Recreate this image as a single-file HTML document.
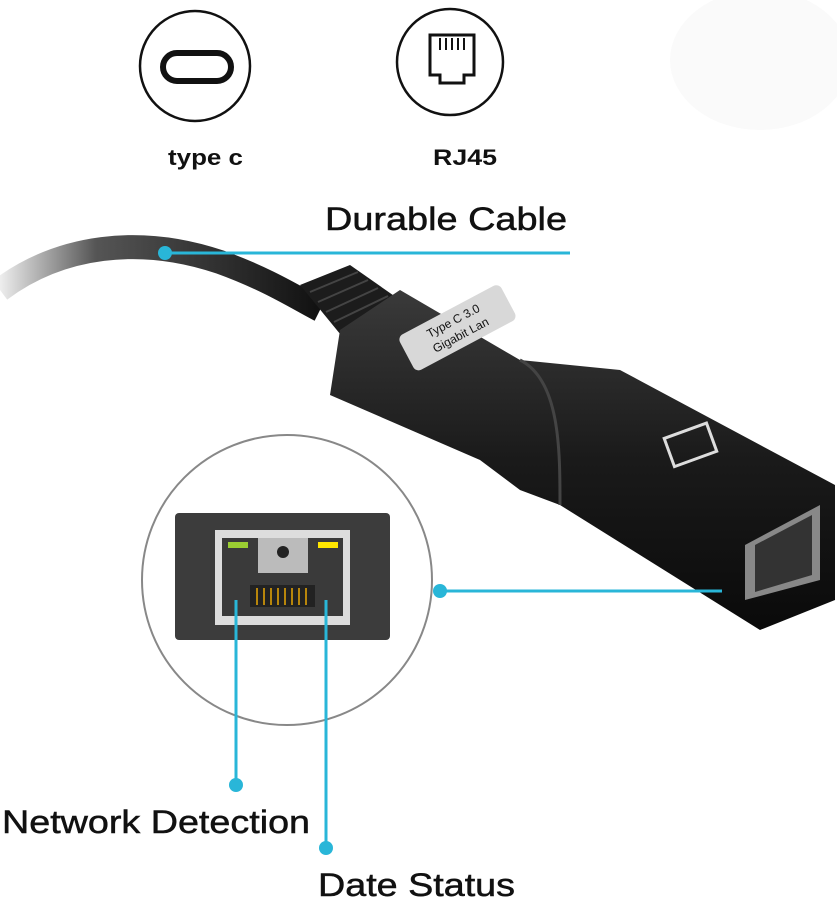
<!DOCTYPE html>
<html><head><meta charset="utf-8"><style>
html,body{margin:0;padding:0;background:#fff;width:837px;height:900px;overflow:hidden}
svg{display:block}
text{font-family:"Liberation Sans",Arial,sans-serif}
</style></head><body>
<svg width="837" height="900" viewBox="0 0 837 900">
<defs>
<linearGradient id="body" x1="0" y1="0" x2="0" y2="1">
<stop offset="0" stop-color="#3a3a3a"/><stop offset="0.5" stop-color="#1a1a1a"/><stop offset="1" stop-color="#0a0a0a"/>
</linearGradient>
<linearGradient id="cable" x1="0" y1="0" x2="1" y2="0">
<stop offset="0" stop-color="#eee"/><stop offset="0.3" stop-color="#555"/><stop offset="1" stop-color="#111"/>
</linearGradient>
</defs>
<circle cx="195" cy="66" r="55" fill="#fff" stroke="#111" stroke-width="2.5"/>
<rect x="163" y="53" width="68" height="28" rx="14" fill="none" stroke="#111" stroke-width="6"/>
<text x="168" y="165" font-size="22" font-weight="bold" textLength="75" lengthAdjust="spacingAndGlyphs" fill="#111">type c</text>
<circle cx="450" cy="62" r="53" fill="#fff" stroke="#111" stroke-width="2.5"/>
<path d="M430 35 h44 v40 h-10 v8 h-24 v-8 h-10 z" fill="none" stroke="#111" stroke-width="3"/>
<g stroke="#111" stroke-width="2"><line x1="440" y1="38" x2="440" y2="50"/><line x1="446" y1="38" x2="446" y2="50"/><line x1="452" y1="38" x2="452" y2="50"/><line x1="458" y1="38" x2="458" y2="50"/><line x1="464" y1="38" x2="464" y2="50"/></g>
<text x="433" y="165" font-size="22" font-weight="bold" textLength="64" lengthAdjust="spacingAndGlyphs" fill="#111">RJ45</text>
<ellipse cx="760" cy="60" rx="90" ry="70" fill="#fafafa"/>
<text x="325" y="230" font-size="32" textLength="242" lengthAdjust="spacingAndGlyphs" fill="#111" stroke="#111" stroke-width="0.5">Durable Cable</text>
<path d="M0 290 C60 245 140 235 220 262 C270 280 300 300 320 310" fill="none" stroke="url(#cable)" stroke-width="24"/>
<path d="M300 285 L350 265 L400 300 L345 340 Z" fill="#1c1c1c"/>
<g stroke="#444" stroke-width="2"><line x1="310" y1="292" x2="358" y2="272"/><line x1="318" y1="302" x2="368" y2="280"/><line x1="326" y1="312" x2="378" y2="288"/><line x1="334" y1="322" x2="388" y2="296"/></g>
<path d="M340 330 L400 290 L520 360 L620 370 L835 485 L835 600 L760 630 L560 505 L520 490 L480 460 L330 395 Z" fill="url(#body)"/>
<path d="M520 360 C560 380 560 450 560 505" fill="none" stroke="#444" stroke-width="3"/>
<rect x="400" y="308" width="115" height="40" rx="6" fill="#d8d8d8" transform="rotate(-28 457 328)"/>
<text x="457" y="324" font-size="12" text-anchor="middle" fill="#111" transform="rotate(-28 457 328)">Type C 3.0</text>
<text x="457" y="340" font-size="12" text-anchor="middle" fill="#111" transform="rotate(-28 457 328)">Gigabit Lan</text>
<rect x="668" y="430" width="45" height="30" fill="none" stroke="#ddd" stroke-width="3" transform="rotate(-20 690 445)"/>
<path d="M745 545 L820 505 L820 580 L745 600 Z" fill="#888"/>
<path d="M755 545 L812 515 L812 575 L755 592 Z" fill="#333"/>
<circle cx="287" cy="580" r="145" fill="#fff" stroke="#888" stroke-width="2"/>
<rect x="175" y="513" width="215" height="127" rx="4" fill="#3c3c3c"/>
<rect x="215" y="530" width="135" height="95" fill="#ddd"/>
<rect x="222" y="538" width="121" height="78" fill="#3a3a3a"/>
<rect x="228" y="542" width="20" height="6" fill="#9acd32"/>
<rect x="318" y="542" width="20" height="6" fill="#ffe600"/>
<rect x="258" y="538" width="50" height="35" fill="#bbb"/>
<circle cx="283" cy="552" r="6" fill="#222"/>
<rect x="250" y="585" width="65" height="22" fill="#222"/>
<g stroke="#b8860b" stroke-width="2"><line x1="257" y1="588" x2="257" y2="605"/><line x1="264" y1="588" x2="264" y2="605"/><line x1="271" y1="588" x2="271" y2="605"/><line x1="278" y1="588" x2="278" y2="605"/><line x1="285" y1="588" x2="285" y2="605"/><line x1="292" y1="588" x2="292" y2="605"/><line x1="299" y1="588" x2="299" y2="605"/><line x1="306" y1="588" x2="306" y2="605"/></g>
<g stroke="#29b6d8" stroke-width="3" fill="none">
<line x1="165" y1="253" x2="570" y2="253"/>
<line x1="440" y1="591" x2="722" y2="591"/>
<line x1="236" y1="600" x2="236" y2="785"/>
<line x1="326" y1="600" x2="326" y2="848"/>
</g>
<g fill="#29b6d8">
<circle cx="165" cy="253" r="7"/><circle cx="440" cy="591" r="7"/>
<circle cx="236" cy="785" r="7"/><circle cx="326" cy="848" r="7"/>
</g>
<text x="2" y="833" font-size="32" textLength="308" lengthAdjust="spacingAndGlyphs" fill="#111" stroke="#111" stroke-width="0.5">Network Detection</text>
<text x="318" y="896" font-size="32" textLength="197" lengthAdjust="spacingAndGlyphs" fill="#111" stroke="#111" stroke-width="0.5">Date Status</text>
</svg>
</body></html>
